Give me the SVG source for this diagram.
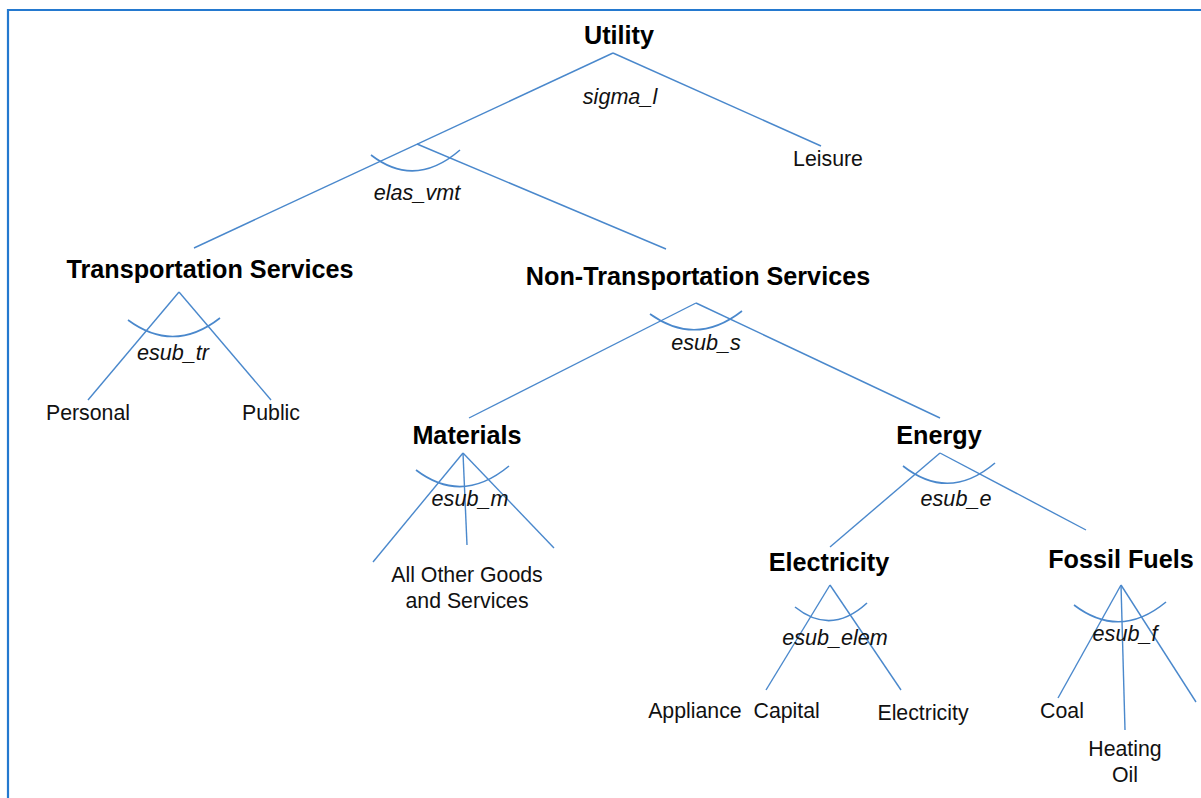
<svg xmlns="http://www.w3.org/2000/svg" width="1201" height="798" viewBox="0 0 1201 798">
  <style>
    .bold { font-family: "Liberation Sans", Arial, sans-serif; font-weight: bold; font-size: 25.2px; fill: #000; text-anchor: middle; }
    .reg { font-family: "Liberation Sans", Arial, sans-serif; font-size: 21.3px; fill: #111; text-anchor: middle; }
    .ital { font-family: "Liberation Sans", Arial, sans-serif; font-style: italic; font-size: 21.6px; fill: #111; text-anchor: middle; }
    .edge { stroke: #4a88cc; stroke-width: 1.4; fill: none; }
    .arc { stroke: #4a88cc; stroke-width: 1.6; fill: none; }
  </style>
  <rect x="0" y="0" width="1201" height="798" fill="#ffffff"/>
  <!-- outer frame: only top and left edges fall inside the canvas -->
  <path d="M 8 798 L 8 10 L 1201 10" fill="none" stroke="#2479cf" stroke-width="2.2"/>

  <g id="connectors">
    <!-- Utility -->
    <line class="edge" x1="613" y1="53" x2="194" y2="248"/>
    <line class="edge" x1="613" y1="53" x2="821" y2="146"/>
    <line class="edge" x1="417" y1="144" x2="666" y2="249"/>
    <path class="arc" d="M 371 155 Q 415 189 460 150"/>
    <!-- Transportation Services -->
    <line class="edge" x1="179" y1="292" x2="88" y2="400"/>
    <line class="edge" x1="179" y1="292" x2="271" y2="400"/>
    <path class="arc" d="M 128 320 Q 174 354 220 318"/>
    <!-- Non-Transportation Services -->
    <line class="edge" x1="696" y1="303" x2="469" y2="418"/>
    <line class="edge" x1="696" y1="303" x2="940" y2="418"/>
    <path class="arc" d="M 650 314 Q 696 347 742 311"/>
    <!-- Materials -->
    <line class="edge" x1="463" y1="453" x2="373" y2="562"/>
    <line class="edge" x1="463" y1="453" x2="467" y2="545"/>
    <line class="edge" x1="463" y1="453" x2="554" y2="548"/>
    <path class="arc" d="M 416 470 Q 462 505 509 466"/>
    <!-- Energy -->
    <line class="edge" x1="940" y1="453" x2="830" y2="547"/>
    <line class="edge" x1="940" y1="453" x2="1086" y2="530"/>
    <path class="arc" d="M 903 466 Q 949 502 995 463"/>
    <!-- Electricity -->
    <line class="edge" x1="830" y1="585" x2="766" y2="690"/>
    <line class="edge" x1="830" y1="585" x2="901" y2="690"/>
    <path class="arc" d="M 795 607 Q 831 636 867 603"/>
    <!-- Fossil Fuels -->
    <line class="edge" x1="1121" y1="585" x2="1058" y2="698"/>
    <line class="edge" x1="1121" y1="585" x2="1125" y2="730"/>
    <line class="edge" x1="1121" y1="585" x2="1196" y2="702"/>
    <path class="arc" d="M 1074 605 Q 1120 640 1166 602"/>
  </g>

  <g id="utility"><text class="bold" x="619" y="44">Utility</text></g>
  <g id="sigma-l"><text class="ital" x="620" y="104">sigma_l</text></g>
  <g id="leisure"><text class="reg" x="828" y="166">Leisure</text></g>
  <g id="elas-vmt"><text class="ital" x="417" y="200">elas_vmt</text></g>

  <g id="transportation"><text class="bold" x="210" y="278">Transportation Services</text></g>
  <g id="esub-tr"><text class="ital" x="173" y="360">esub_tr</text></g>
  <g id="personal"><text class="reg" x="88" y="420">Personal</text></g>
  <g id="public"><text class="reg" x="271" y="420">Public</text></g>

  <g id="non-transportation"><text class="bold" x="698" y="285">Non-Transportation Services</text></g>
  <g id="esub-s"><text class="ital" x="706" y="350">esub_s</text></g>

  <g id="materials"><text class="bold" x="467" y="444">Materials</text></g>
  <g id="esub-m"><text class="ital" x="470" y="506">esub_m</text></g>
  <g id="other-goods">
    <text class="reg" x="467" y="582">All Other Goods</text>
    <text class="reg" x="467" y="608">and Services</text>
  </g>

  <g id="energy"><text class="bold" x="939" y="444">Energy</text></g>
  <g id="esub-e"><text class="ital" x="956" y="506">esub_e</text></g>

  <g id="electricity"><text class="bold" x="829" y="571">Electricity</text></g>
  <g id="esub-elem"><text class="ital" x="835" y="645">esub_elem</text></g>
  <g id="appliance-capital"><text class="reg" x="734" y="718" xml:space="preserve">Appliance  Capital</text></g>
  <g id="electricity-input"><text class="reg" x="923" y="720">Electricity</text></g>

  <g id="fossil-fuels"><text class="bold" x="1121" y="568">Fossil Fuels</text></g>
  <g id="esub-f"><text class="ital" x="1125" y="641">esub_f</text></g>
  <g id="coal"><text class="reg" x="1062" y="718">Coal</text></g>
  <g id="heating-oil">
    <text class="reg" x="1125" y="756">Heating</text>
    <text class="reg" x="1125" y="782">Oil</text>
  </g>
</svg>
